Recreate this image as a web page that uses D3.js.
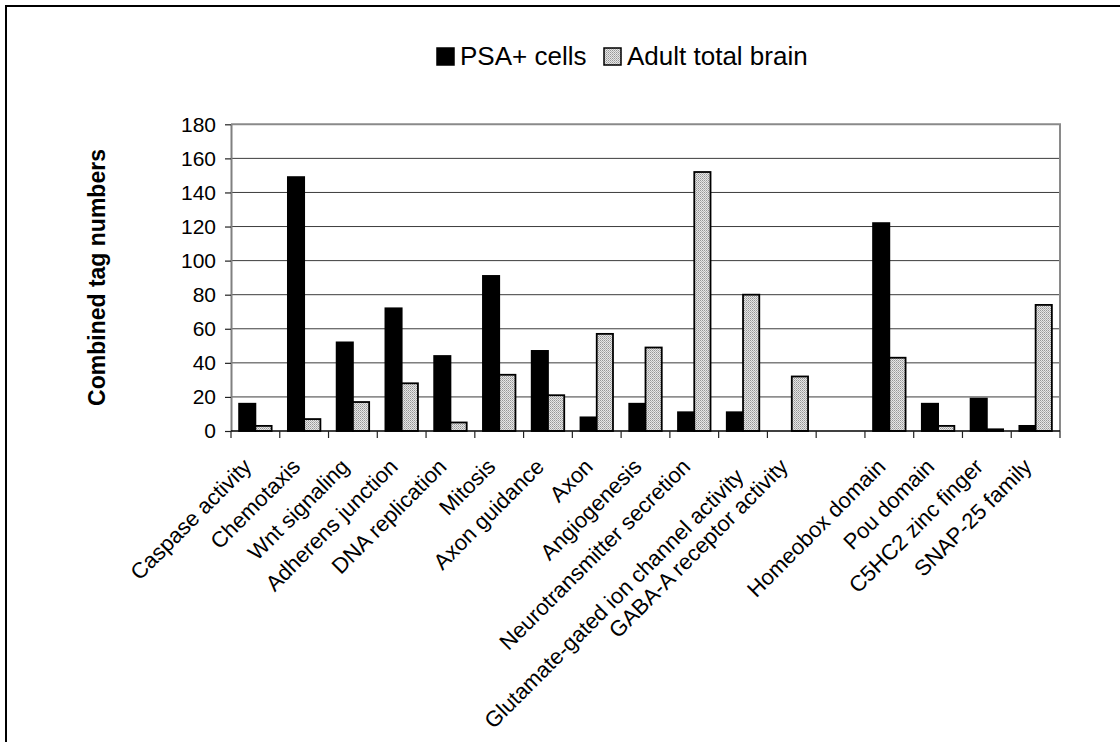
<!DOCTYPE html>
<html>
<head>
<meta charset="utf-8">
<script src="https://cdn.jsdelivr.net/npm/d3@7"></script>
<style>
  html, body { margin: 0; padding: 0; background: #fff; }
  svg { display: block; font-family: Arial, "Liberation Sans", sans-serif; }
</style>
</head>
<body>
<svg id="chart" width="1120" height="742"></svg>
<script>
// Functional categories (one slot is intentionally left blank)
const categories = [
  "Caspase activity", "Chemotaxis", "Wnt signaling", "Adherens junction",
  "DNA replication", "Mitosis", "Axon guidance", "Axon", "Angiogenesis",
  "Neurotransmitter secretion", "Glutamate-gated ion channel activity",
  "GABA-A receptor activity", "", "Homeobox domain", "Pou domain",
  "C5HC2 zinc finger", "SNAP-25 family"
];
const seriesNames = ["PSA+ cells", "Adult total brain"];
const psaCells   = [16, 149, 52, 72, 44, 91, 47, 8, 16, 11, 11, 0, null, 122, 16, 19, 3];
const adultBrain = [3, 7, 17, 28, 5, 33, 21, 57, 49, 152, 80, 32, null, 43, 3, 1, 74];
const yTicks = [0, 20, 40, 60, 80, 100, 120, 140, 160, 180];
const yTitle = "Combined tag numbers";

const svg = d3.select("#chart");

// stippled fill for the second series
const defs = svg.append("defs");
const pat = defs.append("pattern")
  .attr("id", "stipple").attr("patternUnits", "userSpaceOnUse")
  .attr("width", 2).attr("height", 2);
pat.append("rect").attr("width", 2).attr("height", 2).attr("fill", "#e6e6e6");
pat.append("rect").attr("x", 0).attr("y", 0).attr("width", 1).attr("height", 1).attr("fill", "#969696");
pat.append("rect").attr("x", 1).attr("y", 1).attr("width", 1).attr("height", 1).attr("fill", "#b4b4b4");

// outer frame (top and left edges)
svg.append("path")
  .attr("d", "M6,742 V6 H1120")
  .attr("fill", "none").attr("stroke", "#000").attr("stroke-width", 2);

const plot = { left: 231, right: 1060, top: 124.3, bottom: 431 };

const x = d3.scaleBand()
  .domain(d3.range(categories.length))
  .range([plot.left, plot.right])
  .paddingInner(0).paddingOuter(0);

const y = d3.scaleLinear().domain([0, 180]).range([plot.bottom, plot.top]);

const barW = x.bandwidth() / 3;

// horizontal gridlines
svg.append("g")
  .selectAll("line")
  .data(yTicks.filter(t => t > 0 && t < 180))
  .join("line")
  .attr("x1", plot.left).attr("x2", plot.right)
  .attr("y1", d => y(d)).attr("y2", d => y(d))
  .attr("stroke", "#3c3c3c").attr("stroke-width", 1);

// plot frame: top and right in grey
svg.append("path")
  .attr("d", `M${plot.left},${y(180)} H${plot.right} V${plot.bottom}`)
  .attr("fill", "none").attr("stroke", "#8a8a8a").attr("stroke-width", 2);

// bars
const cx = i => x(i) + x.bandwidth() / 2;
const bars = svg.append("g");
categories.forEach((c, i) => {
  if (psaCells[i] != null && psaCells[i] > 0) {
    bars.append("rect")
      .attr("x", cx(i) - barW).attr("width", barW)
      .attr("y", y(psaCells[i])).attr("height", y(0) - y(psaCells[i]))
      .attr("fill", "#000").attr("stroke", "#000").attr("stroke-width", 1.8);
  }
  if (adultBrain[i] != null && adultBrain[i] > 0) {
    bars.append("rect")
      .attr("x", cx(i)).attr("width", barW)
      .attr("y", y(adultBrain[i])).attr("height", y(0) - y(adultBrain[i]))
      .attr("fill", "url(#stipple)").attr("stroke", "#000").attr("stroke-width", 1.8);
  }
});

// y axis
const yAxis = svg.append("g")
  .attr("transform", `translate(${plot.left},0)`)
  .call(d3.axisLeft(y).tickValues(yTicks).tickSize(6).tickSizeOuter(0).tickPadding(9));
yAxis.select(".domain").attr("stroke", "#808080").attr("stroke-width", 2);
yAxis.selectAll(".tick line").attr("stroke", "#222").attr("stroke-width", 1.2);
yAxis.selectAll(".tick text")
  .attr("font-size", 21).attr("fill", "#000")
  .attr("font-family", "Arial, 'Liberation Sans', sans-serif");

// x axis with ticks at slot boundaries
const xAxisG = svg.append("g");
xAxisG.append("line")
  .attr("x1", plot.left).attr("x2", plot.right)
  .attr("y1", plot.bottom).attr("y2", plot.bottom)
  .attr("stroke", "#000").attr("stroke-width", 1.5);
xAxisG.selectAll("line.tk")
  .data(d3.range(categories.length + 1))
  .join("line").attr("class", "tk")
  .attr("x1", i => i < categories.length ? x(i) : plot.right)
  .attr("x2", i => i < categories.length ? x(i) : plot.right)
  .attr("y1", plot.bottom).attr("y2", plot.bottom + 7)
  .attr("stroke", "#222").attr("stroke-width", 1.2);

// clip for the long label
defs.append("clipPath").attr("id", "clipGlu")
  .append("rect").attr("x", 0).attr("y", 0)
  .attr("width", cx(10)).attr("height", 742);

// category labels rotated 45°
categories.forEach((c, i) => {
  if (!c) return;
  const long = c.startsWith("Glutamate");
  const ax = long ? cx(i) + 2 : cx(i) - 2.5;
  const ay = long ? 478 : 468;
  const g = svg.append("g");
  if (long) g.attr("clip-path", "url(#clipGlu)");
  g.append("text")
    .attr("transform", `translate(${ax},${ay}) rotate(-45)`)
    .attr("text-anchor", "end")
    .attr("font-size", 22)
    .attr("fill", "#000")
    .text(c);
});

// y axis title
svg.append("text")
  .attr("transform", "translate(105,277.5) rotate(-90)")
  .attr("text-anchor", "middle")
  .attr("font-size", 23).attr("font-weight", "bold")
  .text(yTitle);

// legend
const legend = svg.append("g");
const legendItems = [
  { name: seriesNames[0], fill: "#000", sx: 437, tx: 460 },
  { name: seriesNames[1], fill: "url(#stipple)", sx: 604, tx: 627 }
];
legendItems.forEach(d => {
  legend.append("rect")
    .attr("x", d.sx).attr("y", 48).attr("width", 17).attr("height", 17)
    .attr("fill", d.fill).attr("stroke", "#000").attr("stroke-width", 1.5);
  legend.append("text")
    .attr("x", d.tx).attr("y", 65)
    .attr("font-size", 26).attr("fill", "#000")
    .text(d.name);
});
</script>
</body>
</html>
